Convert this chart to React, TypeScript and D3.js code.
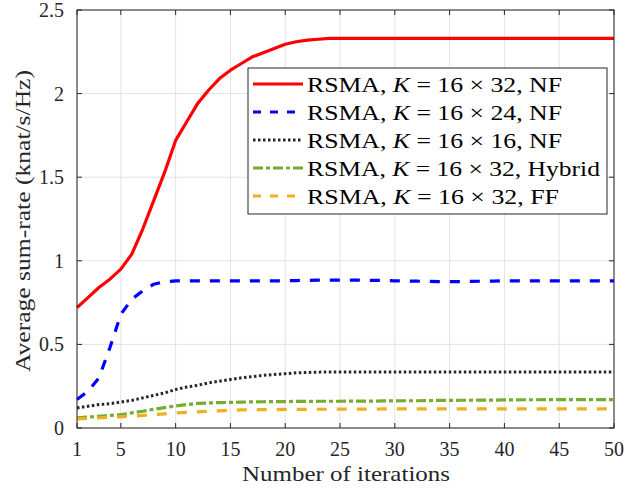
import React from "react";
import * as d3 from "d3";

const iterations = d3.range(1, 51);
const redNF32 = [0.72,0.78,0.84,0.89,0.95,1.04,1.19,1.36,1.53,1.72,1.83,1.94,2.02,2.09,2.14,2.18,2.22,2.245,2.27,2.295,2.31,2.32,2.325,2.33,2.33,2.33,2.33,2.33,2.33,2.33,2.33,2.33,2.33,2.33,2.33,2.33,2.33,2.33,2.33,2.33,2.33,2.33,2.33,2.33,2.33,2.33,2.33,2.33,2.33,2.33];
const blueNF24 = [0.17,0.22,0.3,0.48,0.68,0.77,0.82,0.86,0.875,0.88,0.88,0.88,0.88,0.88,0.88,0.88,0.88,0.88,0.88,0.88,0.882,0.883,0.884,0.885,0.885,0.885,0.884,0.883,0.882,0.88,0.879,0.878,0.877,0.876,0.876,0.876,0.877,0.878,0.879,0.88,0.88,0.88,0.88,0.88,0.88,0.88,0.88,0.88,0.88,0.88];
const blackNF16 = [0.12,0.13,0.14,0.145,0.155,0.165,0.18,0.195,0.21,0.23,0.245,0.255,0.27,0.28,0.29,0.3,0.307,0.315,0.32,0.325,0.33,0.332,0.334,0.335,0.335,0.335,0.335,0.335,0.335,0.335,0.335,0.335,0.335,0.335,0.335,0.335,0.335,0.335,0.335,0.335,0.335,0.335,0.335,0.335,0.335,0.335,0.335,0.335,0.335,0.335];
const greenHybrid = [0.06,0.065,0.07,0.075,0.08,0.09,0.1,0.112,0.122,0.132,0.14,0.147,0.15,0.152,0.153,0.155,0.156,0.157,0.158,0.158,0.159,0.159,0.16,0.16,0.16,0.161,0.161,0.161,0.162,0.162,0.163,0.163,0.164,0.165,0.165,0.166,0.166,0.167,0.167,0.168,0.168,0.169,0.169,0.17,0.17,0.17,0.17,0.17,0.17,0.17];
const orangeFF = [0.055,0.058,0.061,0.064,0.067,0.07,0.075,0.08,0.085,0.09,0.094,0.097,0.1,0.103,0.106,0.108,0.109,0.11,0.11,0.111,0.111,0.112,0.112,0.112,0.113,0.113,0.113,0.113,0.114,0.114,0.114,0.114,0.114,0.114,0.114,0.114,0.114,0.114,0.114,0.114,0.114,0.114,0.114,0.114,0.114,0.114,0.114,0.114,0.114,0.114];

const xTicks = [1, 5, 10, 15, 20, 25, 30, 35, 40, 45, 50];
const yTicks = [0, 0.5, 1, 1.5, 2, 2.5];
const configs = ["16 × 32, NF", "16 × 24, NF", "16 × 16, NF", "16 × 32, Hybrid", "16 × 32, FF"];
const legendWidths = [255, 255, 255, 293, 252];

const series = [
  { data: redNF32, color: "#ff0000", dash: "none", w: 3.2 },
  { data: blueNF24, color: "#0000ff", dash: "10,10", w: 3.2 },
  { data: blackNF16, color: "#262626", dash: "2.5,2.5", w: 3 },
  { data: greenHybrid, color: "#77ac30", dash: "10,3,4,3", w: 3.2 },
  { data: orangeFF, color: "#edb120", dash: "10,10", w: 3.2 },
];

export default function App() {
  const W = 629, H = 489;
  const L = 77, R = 614, T = 10, B = 428;
  const x = d3.scaleLinear().domain([1, 50]).range([L, R]);
  const y = d3.scaleLinear().domain([0, 2.5]).range([B, T]);
  const line = d3.line<number>().x((_, i) => x(iterations[i])).y((d) => y(d));
  const axisColor = "#262626";
  const font = "'Liberation Serif', 'DejaVu Serif', serif";
  const lgX = 248, lgY = 68, lgW = 359, lgH = 146;
  return (
    <svg width={W} height={H} style={{ position: "absolute", left: 0, top: 0, background: "#fff" }} fontFamily={font}>
      <rect x={0} y={0} width={W} height={H} fill="#fff" />
      {xTicks.map((t) => (
        <line key={"gx" + t} x1={x(t)} x2={x(t)} y1={T} y2={B} stroke="#e3e3e3" strokeWidth={1} />
      ))}
      {yTicks.map((t) => (
        <line key={"gy" + t} x1={L} x2={R} y1={y(t)} y2={y(t)} stroke="#e3e3e3" strokeWidth={1} />
      ))}
      {series.map((s, i) => (
        <path key={"s" + i} d={line(s.data) || ""} fill="none" stroke={s.color} strokeWidth={s.w} strokeDasharray={s.dash} strokeLinejoin="round" />
      ))}
      <rect x={L} y={T} width={R - L} height={B - T} fill="none" stroke={axisColor} strokeWidth={1} />
      {xTicks.map((t) => (
        <g key={"tx" + t}>
          <line x1={x(t)} x2={x(t)} y1={B} y2={B - 5} stroke={axisColor} />
          <line x1={x(t)} x2={x(t)} y1={T} y2={T + 5} stroke={axisColor} />
          <text x={x(t)} y={B + 28} textAnchor="middle" fontSize={20} fill={axisColor}>{t}</text>
        </g>
      ))}
      {yTicks.map((t) => (
        <g key={"ty" + t}>
          <line x1={L} x2={L + 5} y1={y(t)} y2={y(t)} stroke={axisColor} />
          <line x1={R} x2={R - 5} y1={y(t)} y2={y(t)} stroke={axisColor} />
          <text x={L - 13} y={y(t) + 7} textAnchor="end" fontSize={20} fill={axisColor}>{t}</text>
        </g>
      ))}
      <text x={346} y={481} textAnchor="middle" fontSize={21} fill={axisColor} textLength={208} lengthAdjust="spacingAndGlyphs">Number of iterations</text>
      <text transform={`translate(30, ${221}) rotate(-90)`} textAnchor="middle" fontSize={21} fill={axisColor} textLength={302} lengthAdjust="spacingAndGlyphs">Average sum-rate (knat/s/Hz)</text>
      <rect x={lgX} y={lgY} width={lgW} height={lgH} fill="#fff" stroke={axisColor} strokeWidth={1} />
      {series.map((s, i) => {
        const cy = lgY + 16 + i * 28;
        return (
          <g key={"lg" + i}>
            <line x1={lgX + 5} x2={lgX + 55} y1={cy} y2={cy} stroke={s.color} strokeWidth={s.w} strokeDasharray={s.dash === "10,10" ? "8,9" : s.dash} />
            <text x={lgX + 59} y={cy + 8} fontSize={22} fill="#000" textLength={legendWidths[i]} lengthAdjust="spacingAndGlyphs">
              RSMA, <tspan fontStyle="italic">K</tspan> = {configs[i]}
            </text>
          </g>
        );
      })}
    </svg>
  );
}
